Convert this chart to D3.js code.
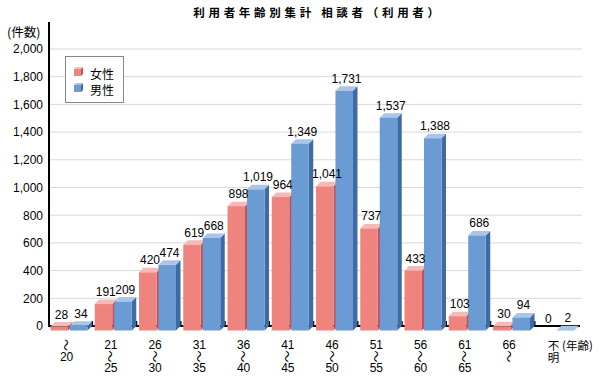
<!DOCTYPE html>
<html><head><meta charset="utf-8">
<script src="https://cdn.jsdelivr.net/npm/d3@7"></script>
<style>
body{margin:0;background:#fff;}
svg{display:block;font-family:"Liberation Sans","Noto Sans CJK JP",sans-serif;}
</style></head>
<body><svg id="c" width="600" height="383"></svg>
<script>
const categories = ["～20","21～25","26～30","31～35","36～40","41～45","46～50","51～55","56～60","61～65","66～","不明"];
const seriesNames = ["女性","男性"];
const female = [28,191,420,619,898,964,1041,737,433,103,30,0];
const male = [34,209,474,668,1019,1349,1731,1537,1388,686,94,2];
const yTicks = [0,200,400,600,800,1000,1200,1400,1600,1800,2000];
const title = "利用者年齢別集計 相談者（利用者）";
const yUnit = "(件数)";
const xUnit = "(年齢)";

const colors = {
  "女性": {front:"#ef847e", side:"#c0505a", top:"#f6b9b5"},
  "男性": {front:"#6a9bd3", side:"#3e6ba6", top:"#a9c6ea"}
};
const D = 4.5;
const svg = d3.select("#c");
const x = d3.scaleBand().domain(categories).range([49,580]);
const xs = d3.scaleBand().domain(seriesNames).range([1.5,38.5]).paddingInner(0.1);
const y = d3.scaleLinear().domain([0,2000]).range([326,49]);

// title
svg.append("text").attr("x",318).attr("y",17).attr("text-anchor","middle")
  .attr("font-size",11.5).attr("font-weight","bold").attr("letter-spacing",3.7)
  .attr("font-family","Noto Sans CJK JP").text(title);

// gridlines
svg.append("g").selectAll("line").data(yTicks.filter(d=>d>0)).join("line")
  .attr("x1",49).attr("x2",582).attr("y1",d=>y(d)).attr("y2",d=>y(d))
  .attr("stroke","#d9d9d9").attr("stroke-width",1);

// y axis
const yAxis = d3.axisLeft(y).tickValues(yTicks).tickFormat(d3.format(",")).tickSize(0).tickPadding(6);
const gy = svg.append("g").attr("transform","translate(49,0)").call(yAxis);
gy.select(".domain").remove();
gy.selectAll("text").attr("font-size",12).attr("fill","#000").attr("font-family","Liberation Sans");
svg.append("line").attr("x1",49).attr("x2",49).attr("y1",22).attr("y2",327).attr("stroke","#000").attr("stroke-width",2);
svg.append("text").attr("x",7).attr("y",37).attr("font-size",12.5).attr("font-family","Noto Sans CJK JP").text(yUnit);

// x baseline + ticks
svg.append("line").attr("x1",49).attr("x2",580).attr("y1",326).attr("y2",326).attr("stroke","#000").attr("stroke-width",2);
svg.append("g").selectAll("line").data(categories.slice(1)).join("line")
  .attr("x1",d=>x(d)-1).attr("x2",d=>x(d)-1).attr("y1",321).attr("y2",327)
  .attr("stroke","#000").attr("stroke-width",1.5);

// bars
const rows = [];
categories.forEach((c,i)=>{
  rows.push({cat:c, s:"女性", v:female[i]});
  rows.push({cat:c, s:"男性", v:male[i]});
});
const gb = svg.append("g");
rows.forEach(r=>{
  if(r.v<=0) return;
  const x0 = x(r.cat)+xs(r.s), w = xs.bandwidth();
  const yt = y(r.v)+D, yb = y(0)+D;
  const c = colors[r.s];
  const g = gb.append("g");
  g.append("path").attr("d",`M${x0+w},${yt}L${x0+w+D},${yt-D}L${x0+w+D},${yb-D}L${x0+w},${yb}Z`).attr("fill",c.side);
  g.append("path").attr("d",`M${x0},${yt}L${x0+D},${yt-D}L${x0+w+D},${yt-D}L${x0+w},${yt}Z`).attr("fill",c.top);
  g.append("rect").attr("x",x0).attr("y",yt).attr("width",w).attr("height",Math.max(0,yb-yt)).attr("fill",c.front);
});
// value labels
svg.append("g").selectAll("text").data(rows).join("text")
  .attr("x",d=>x(d.cat)+xs(d.s)+xs.bandwidth()/2+D/2)
  .attr("y",d=>y(d.v)-3.5)
  .attr("text-anchor","middle").attr("font-size",12).attr("font-family","Liberation Sans")
  .text(d=>d3.format(",")(d.v));

// x labels
const gx = svg.append("g");
categories.forEach(c=>{
  const cx = x(c)+x.bandwidth()/2-4.5;
  if(c==="不明"){
    const t = gx.append("text").attr("text-anchor","middle").attr("font-size",11.5).attr("font-family","Noto Sans CJK JP");
    c.split("").forEach((ch,k)=>{
      t.append("tspan").attr("x",cx).attr("y",349.5+k*12.5).text(ch);
    });
    return;
  }
  const p=c.split("～"); const lines=[]; if(p[0]) lines.push(p[0]); lines.push("～"); if(p[1]) lines.push(p[1]);
  lines.forEach((t,k)=>{
    const ly = 345 + k*11.5;
    if(t==="～"){
      gx.append("text").attr("x",0).attr("y",0).attr("text-anchor","middle").attr("dominant-baseline","central")
        .attr("font-size",12).attr("font-family","Noto Sans CJK JP")
        .attr("transform",`translate(${cx},${ly}) rotate(90)`).text("～");
    } else {
      gx.append("text").attr("x",cx).attr("y",ly).attr("text-anchor","middle").attr("dominant-baseline","central")
        .attr("font-size",12).attr("font-family","Liberation Sans, Noto Sans CJK JP").text(t);
    }
  });
});
svg.append("text").attr("x",562).attr("y",345).attr("dominant-baseline","central").attr("font-size",11.5)
  .attr("font-family","Noto Sans CJK JP").text(xUnit);

// legend
const lg = svg.append("g");
lg.append("rect").attr("x",65.5).attr("y",56.5).attr("width",58).attr("height",46).attr("fill","#fff").attr("stroke","#888");
seriesNames.forEach((s,i)=>{
  const ly = 72 + i*16;
  const c = colors[s], sx=74, sy=ly-3, sw=7;
  lg.append("path").attr("d",`M${sx+sw},${sy}L${sx+sw+2},${sy-2}L${sx+sw+2},${sy+sw-2}L${sx+sw},${sy+sw}Z`).attr("fill",c.side);
  lg.append("path").attr("d",`M${sx},${sy}L${sx+2},${sy-2}L${sx+sw+2},${sy-2}L${sx+sw},${sy}Z`).attr("fill",c.top);
  lg.append("rect").attr("x",sx).attr("y",sy).attr("width",sw).attr("height",sw).attr("fill",c.front);
  lg.append("text").attr("x",90).attr("y",ly+1).attr("dominant-baseline","central").attr("font-size",12)
    .attr("font-family","Noto Sans CJK JP").text(s);
});
</script></body></html>
